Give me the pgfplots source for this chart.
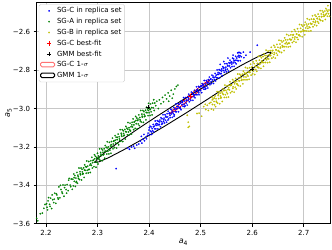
\documentclass[border=0pt]{standalone}
\usepackage{pgfplots}
\pgfplotsset{compat=1.18}
\usepackage{fontspec}
\setmainfont{DejaVu Sans}
\definecolor{mplgreen}{RGB}{0,128,0}
\definecolor{mplyellow}{RGB}{191,191,0}
\definecolor{mplblue}{RGB}{0,0,255}
\begin{document}
\begin{tikzpicture}
\begin{axis}[
 scale only axis, width=293.8pt, height=221.2pt,
 xmin=2.1816, xmax=2.7516, ymin=-3.6, ymax=-2.4475,
 xtick={2.2,2.3,2.4,2.5,2.6,2.7}, xticklabels={2.2,2.3,2.4,2.5,2.6,2.7},
 ytick={-3.6,-3.4,-3.2,-3.0,-2.8,-2.6}, yticklabels={−3.6,−3.4,−3.2,−3.0,−2.8,−2.6},
 grid=major, grid style={line width=0.8pt, black!22},
 tick align=outside, tick pos=left, major tick length=3pt,
 tick style={black, line width=0.6pt},
 ticklabel style={font=\fontsize{7}{8}\selectfont},
 axis line style={black, line width=0.7pt},
 xlabel={\textit{a}\textsubscript{4}}, ylabel={\textit{a}\textsubscript{5}},
 label style={font=\fontsize{8}{9}\selectfont},
 xlabel style={at={(axis description cs:0.5,-0.083)}, anchor=center},
 ylabel style={at={(axis description cs:-0.095,0.5)}, anchor=center},
 legend cell align=left,
 legend style={at={(0.008,0.992)}, anchor=north west, draw=black!20, rounded corners=1.5pt, font=\fontsize{7}{8}\selectfont, inner sep=1pt, row sep=0pt},
 scatterstyle/.style={only marks, mark=*, mark size=0.8pt, color=#1, mark options={fill=#1, draw=#1, line width=0.1pt}},
]
% SG-C in replica set
\addplot[scatterstyle=mplblue] coordinates {
(2.336,-3.313)(2.359,-3.205)(2.362,-3.212)(2.366,-3.200)(2.370,-3.196)(2.372,-3.207)(2.376,-3.190)(2.380,-3.185)(2.383,-3.170)(2.386,-3.180)(2.388,-3.160)(2.391,-3.168)(2.393,-3.150)(2.395,-3.158)(2.397,-3.140)(2.398,-3.128)(2.385,-3.145)(2.390,-3.135)
(2.400,-3.112)(2.401,-3.136)(2.402,-3.092)(2.403,-3.117)(2.404,-3.096)(2.405,-3.135)(2.406,-3.105)(2.407,-3.116)(2.408,-3.083)(2.409,-3.122)(2.410,-3.092)(2.411,-3.105)(2.412,-3.065)(2.413,-3.106)(2.414,-3.078)(2.415,-3.088)(2.416,-3.063)(2.417,-3.106)(2.418,-3.067)(2.419,-3.085)
(2.420,-3.083)(2.421,-3.060)(2.422,-3.095)(2.423,-3.048)(2.424,-3.068)(2.425,-3.053)(2.426,-3.077)(2.427,-3.032)(2.428,-3.067)(2.429,-3.050)(2.430,-3.075)(2.431,-3.032)(2.432,-3.061)(2.433,-3.045)(2.434,-3.071)(2.435,-3.027)(2.436,-3.044)(2.437,-3.014)(2.438,-3.054)(2.439,-3.025)
(2.440,-3.023)(2.441,-3.047)(2.442,-3.003)(2.443,-3.028)(2.444,-3.007)(2.445,-3.046)(2.446,-3.016)(2.447,-3.027)(2.448,-2.994)(2.449,-3.033)(2.450,-3.003)(2.451,-3.016)(2.452,-2.976)(2.453,-3.017)(2.454,-2.989)(2.455,-2.999)(2.456,-2.974)(2.457,-3.017)(2.458,-2.978)(2.459,-2.996)
(2.460,-2.994)(2.461,-2.971)(2.462,-3.006)(2.463,-2.959)(2.464,-2.979)(2.465,-2.964)(2.466,-2.988)(2.467,-2.943)(2.468,-2.978)(2.469,-2.961)(2.470,-2.986)(2.471,-2.943)(2.472,-2.972)(2.473,-2.956)(2.474,-2.982)(2.475,-2.938)(2.476,-2.955)(2.477,-2.925)(2.478,-2.965)(2.479,-2.936)
(2.480,-2.934)(2.481,-2.958)(2.482,-2.914)(2.483,-2.939)(2.484,-2.918)(2.485,-2.957)(2.486,-2.927)(2.487,-2.938)(2.488,-2.905)(2.489,-2.944)(2.490,-2.914)(2.491,-2.927)(2.492,-2.887)(2.493,-2.928)(2.494,-2.900)(2.495,-2.910)(2.496,-2.885)(2.497,-2.928)(2.498,-2.889)(2.499,-2.907)
(2.500,-2.905)(2.501,-2.882)(2.502,-2.917)(2.503,-2.870)(2.504,-2.890)(2.505,-2.875)(2.506,-2.899)(2.507,-2.854)(2.508,-2.889)(2.509,-2.872)(2.510,-2.897)(2.511,-2.854)(2.512,-2.883)(2.513,-2.867)(2.514,-2.893)(2.515,-2.849)(2.516,-2.866)(2.517,-2.836)(2.518,-2.876)(2.519,-2.847)
(2.520,-2.846)(2.521,-2.870)(2.522,-2.826)(2.523,-2.851)(2.524,-2.830)(2.525,-2.869)(2.526,-2.839)(2.527,-2.850)(2.528,-2.817)(2.529,-2.856)(2.530,-2.826)(2.531,-2.839)(2.532,-2.799)(2.533,-2.840)(2.534,-2.812)(2.535,-2.822)(2.536,-2.797)(2.537,-2.840)(2.538,-2.801)(2.539,-2.819)
(2.540,-2.817)(2.541,-2.794)(2.542,-2.829)(2.543,-2.782)(2.544,-2.802)(2.545,-2.787)(2.546,-2.811)(2.547,-2.766)(2.548,-2.801)(2.549,-2.784)(2.550,-2.809)(2.551,-2.766)(2.552,-2.795)(2.553,-2.779)(2.554,-2.805)(2.555,-2.761)(2.556,-2.778)(2.557,-2.748)(2.558,-2.788)(2.559,-2.759)
(2.560,-2.757)(2.561,-2.781)(2.562,-2.737)(2.563,-2.762)(2.564,-2.741)(2.565,-2.780)(2.566,-2.750)(2.567,-2.761)(2.568,-2.728)(2.569,-2.767)(2.570,-2.737)(2.571,-2.750)(2.572,-2.710)(2.573,-2.751)(2.574,-2.723)(2.575,-2.733)(2.576,-2.708)(2.577,-2.751)(2.578,-2.712)(2.579,-2.730)
(2.610,-2.670)(2.596,-2.706)(2.583,-2.706)(2.573,-2.708)(2.563,-2.722)(2.553,-2.737)(2.545,-2.755)(2.538,-2.770)(2.588,-2.722)(2.584,-2.735)
(2.4005,-3.100)(2.4045,-3.122)(2.4085,-3.095)(2.4125,-3.085)(2.4165,-3.080)(2.4205,-3.070)(2.4245,-3.082)(2.4285,-3.058)(2.4325,-3.040)(2.4365,-3.060)(2.4405,-3.035)(2.4445,-3.020)(2.4485,-3.040)(2.4525,-3.002)(2.4565,-2.990)(2.4605,-3.000)(2.4645,-2.968)(2.4685,-2.990)(2.4725,-2.958)(2.4765,-2.945)(2.4805,-2.950)(2.4845,-2.925)(2.4885,-2.930)(2.4925,-2.905)(2.4965,-2.918)(2.5005,-2.885)(2.5045,-2.880)(2.5085,-2.900)(2.5125,-2.862)(2.5165,-2.855)(2.5205,-2.860)(2.5245,-2.838)(2.5285,-2.835)(2.5325,-2.822)(2.5365,-2.815)(2.5405,-2.805)(2.5445,-2.790)(2.5485,-2.795)(2.5525,-2.775)(2.5565,-2.765)(2.5605,-2.768)(2.5645,-2.752)(2.5685,-2.748)(2.5725,-2.728)(2.5765,-2.725)
};
\addlegendentry{SG-C in replica set}
% SG-A in replica set
\addplot[scatterstyle=mplgreen] coordinates {
(2.182,-3.572)(2.184,-3.585)(2.189,-3.548)(2.193,-3.545)(2.196,-3.520)(2.198,-3.500)
(2.201,-3.496)(2.203,-3.528)(2.205,-3.464)(2.207,-3.499)(2.209,-3.467)(2.211,-3.521)(2.213,-3.475)(2.215,-3.490)(2.217,-3.441)(2.219,-3.494)(2.221,-3.450)(2.223,-3.465)(2.225,-3.408)(2.227,-3.465)(2.229,-3.422)(2.231,-3.435)(2.233,-3.398)(2.235,-3.457)(2.237,-3.399)(2.239,-3.422)(2.241,-3.396)(2.243,-3.428)(2.245,-3.364)(2.247,-3.399)(2.249,-3.367)(2.251,-3.421)
(2.202,-3.514)(2.204,-3.481)(2.208,-3.510)(2.212,-3.450)(2.216,-3.472)(2.220,-3.444)(2.224,-3.472)(2.228,-3.400)(2.232,-3.442)(2.236,-3.412)(2.240,-3.441)(2.244,-3.373)(2.248,-3.407)
(2.252,-3.368)(2.253,-3.403)(2.254,-3.341)(2.255,-3.379)(2.256,-3.349)(2.257,-3.406)(2.258,-3.362)(2.259,-3.380)(2.260,-3.333)(2.261,-3.389)(2.262,-3.347)(2.263,-3.365)(2.264,-3.310)(2.265,-3.370)(2.266,-3.329)(2.267,-3.345)(2.268,-3.310)(2.269,-3.372)(2.270,-3.316)(2.271,-3.342)
(2.272,-3.339)(2.273,-3.309)(2.274,-3.359)(2.275,-3.293)(2.276,-3.322)(2.277,-3.302)(2.278,-3.337)(2.279,-3.273)(2.280,-3.322)(2.281,-3.300)(2.282,-3.336)(2.283,-3.276)(2.284,-3.317)(2.285,-3.295)(2.286,-3.333)(2.287,-3.272)(2.288,-3.296)(2.289,-3.254)(2.290,-3.310)(2.291,-3.271)
(2.292,-3.268)(2.293,-3.303)(2.294,-3.241)(2.295,-3.279)(2.296,-3.249)(2.297,-3.306)(2.298,-3.262)(2.299,-3.280)(2.300,-3.233)(2.301,-3.289)(2.302,-3.247)(2.303,-3.265)(2.304,-3.210)(2.305,-3.270)(2.306,-3.229)(2.307,-3.245)(2.308,-3.210)(2.309,-3.272)(2.310,-3.216)(2.311,-3.242)
(2.312,-3.239)(2.313,-3.209)(2.314,-3.259)(2.315,-3.193)(2.316,-3.222)(2.317,-3.202)(2.318,-3.237)(2.319,-3.173)(2.320,-3.222)(2.321,-3.200)(2.322,-3.236)(2.323,-3.176)(2.324,-3.217)(2.325,-3.195)(2.326,-3.233)(2.327,-3.172)(2.328,-3.196)(2.329,-3.154)(2.330,-3.210)(2.331,-3.171)
(2.332,-3.168)(2.333,-3.203)(2.334,-3.141)(2.335,-3.179)(2.336,-3.149)(2.337,-3.206)(2.338,-3.162)(2.339,-3.180)(2.340,-3.133)(2.341,-3.189)(2.342,-3.147)(2.343,-3.165)(2.344,-3.110)(2.345,-3.170)(2.346,-3.129)(2.347,-3.145)(2.348,-3.110)(2.349,-3.172)(2.350,-3.116)(2.351,-3.142)
(2.352,-3.139)(2.353,-3.109)(2.354,-3.159)(2.355,-3.093)(2.356,-3.122)(2.357,-3.102)(2.358,-3.137)(2.359,-3.073)(2.360,-3.122)(2.361,-3.100)(2.362,-3.136)(2.363,-3.076)(2.364,-3.117)(2.365,-3.095)(2.366,-3.133)(2.367,-3.072)(2.368,-3.096)(2.369,-3.054)(2.370,-3.110)(2.371,-3.071)
(2.372,-3.068)(2.373,-3.103)(2.374,-3.041)(2.375,-3.079)(2.376,-3.049)(2.377,-3.106)(2.378,-3.062)(2.379,-3.080)(2.380,-3.033)(2.381,-3.089)(2.382,-3.047)(2.383,-3.065)(2.384,-3.010)(2.385,-3.070)(2.386,-3.029)(2.387,-3.045)(2.388,-3.010)(2.389,-3.072)(2.390,-3.016)(2.391,-3.042)
(2.392,-3.039)(2.393,-3.009)(2.394,-3.059)(2.395,-2.993)(2.396,-3.022)(2.397,-3.002)(2.398,-3.037)(2.399,-2.973)(2.400,-3.022)(2.401,-3.000)(2.402,-3.036)(2.403,-2.976)(2.404,-3.017)(2.405,-2.995)(2.406,-3.033)(2.407,-2.972)(2.408,-2.996)(2.409,-2.954)(2.410,-3.010)(2.411,-2.971)
(2.413,-2.985)(2.415,-2.962)(2.418,-3.000)(2.420,-2.955)(2.423,-2.975)(2.426,-2.942)(2.428,-2.965)(2.431,-2.930)(2.434,-2.950)(2.437,-2.918)(2.440,-2.935)(2.443,-2.905)(2.447,-2.925)(2.450,-2.898)(2.453,-2.885)(2.456,-2.878)(2.445,-2.946)(2.438,-2.962)
(2.2545,-3.360)(2.2585,-3.385)(2.2625,-3.355)(2.2665,-3.340)(2.2705,-3.330)(2.2745,-3.320)(2.2785,-3.305)(2.2825,-3.318)(2.2865,-3.288)(2.2905,-3.282)(2.2945,-3.262)(2.2985,-3.255)(2.3025,-3.258)(2.3065,-3.238)(2.3105,-3.228)(2.3145,-3.222)(2.3185,-3.205)(2.3225,-3.212)(2.3265,-3.188)(2.3305,-3.185)(2.3345,-3.165)(2.3385,-3.150)(2.3425,-3.158)(2.3465,-3.138)(2.3505,-3.130)(2.3545,-3.120)(2.3585,-3.108)(2.3625,-3.112)(2.3665,-3.085)(2.3705,-3.085)(2.3745,-3.062)(2.3785,-3.055)(2.3825,-3.058)(2.3865,-3.040)(2.3905,-3.030)(2.3945,-3.020)(2.3985,-3.010)(2.4025,-3.005)
};
\addlegendentry{SG-A in replica set}
% SG-B in replica set
\addplot[scatterstyle=mplyellow] coordinates {
(2.474,-3.035)(2.476,-3.071)(2.478,-3.093)(2.476,-3.098)(2.493,-3.026)(2.497,-3.024)(2.502,-3.040)(2.506,-2.990)(2.510,-3.005)(2.513,-2.983)(2.517,-2.973)(2.509,-2.978)(2.515,-3.010)
(2.520,-2.968)(2.521,-3.003)(2.522,-2.941)(2.523,-2.979)(2.524,-2.950)(2.525,-3.007)(2.526,-2.963)(2.527,-2.981)(2.528,-2.935)(2.529,-2.990)(2.530,-2.949)(2.531,-2.967)(2.532,-2.912)(2.533,-2.972)(2.534,-2.932)(2.535,-2.948)(2.536,-2.913)(2.537,-2.975)(2.538,-2.920)(2.539,-2.945)
(2.540,-2.943)(2.541,-2.913)(2.542,-2.963)(2.543,-2.897)(2.544,-2.927)(2.545,-2.907)(2.546,-2.942)(2.547,-2.878)(2.548,-2.928)(2.549,-2.905)(2.550,-2.942)(2.551,-2.882)(2.552,-2.923)(2.553,-2.901)(2.554,-2.940)(2.555,-2.879)(2.556,-2.903)(2.557,-2.861)(2.558,-2.918)(2.559,-2.878)
(2.560,-2.876)(2.561,-2.911)(2.562,-2.849)(2.563,-2.887)(2.564,-2.858)(2.565,-2.915)(2.566,-2.871)(2.567,-2.889)(2.568,-2.843)(2.569,-2.898)(2.570,-2.857)(2.571,-2.875)(2.572,-2.820)(2.573,-2.880)(2.574,-2.840)(2.575,-2.856)(2.576,-2.821)(2.577,-2.883)(2.578,-2.828)(2.579,-2.853)
(2.580,-2.851)(2.581,-2.821)(2.582,-2.871)(2.583,-2.805)(2.584,-2.835)(2.585,-2.815)(2.586,-2.850)(2.587,-2.786)(2.588,-2.836)(2.589,-2.813)(2.590,-2.850)(2.591,-2.790)(2.592,-2.831)(2.593,-2.809)(2.594,-2.848)(2.595,-2.787)(2.596,-2.811)(2.597,-2.769)(2.598,-2.826)(2.599,-2.786)
(2.600,-2.784)(2.601,-2.819)(2.602,-2.757)(2.603,-2.795)(2.604,-2.766)(2.605,-2.823)(2.606,-2.779)(2.607,-2.797)(2.608,-2.751)(2.609,-2.806)(2.610,-2.765)(2.611,-2.783)(2.612,-2.728)(2.613,-2.788)(2.614,-2.748)(2.615,-2.764)(2.616,-2.729)(2.617,-2.791)(2.618,-2.736)(2.619,-2.761)
(2.620,-2.759)(2.621,-2.729)(2.622,-2.780)(2.623,-2.714)(2.624,-2.744)(2.625,-2.724)(2.626,-2.760)(2.627,-2.696)(2.628,-2.746)(2.629,-2.724)(2.630,-2.761)(2.631,-2.701)(2.632,-2.742)(2.633,-2.720)(2.634,-2.759)(2.635,-2.698)(2.636,-2.723)(2.637,-2.681)(2.638,-2.738)(2.639,-2.699)
(2.640,-2.697)(2.641,-2.732)(2.642,-2.671)(2.643,-2.709)(2.644,-2.680)(2.645,-2.737)(2.646,-2.694)(2.647,-2.712)(2.648,-2.666)(2.649,-2.722)(2.650,-2.681)(2.651,-2.698)(2.652,-2.644)(2.653,-2.704)(2.654,-2.664)(2.655,-2.680)(2.656,-2.646)(2.657,-2.708)(2.658,-2.653)(2.659,-2.679)
(2.660,-2.677)(2.661,-2.647)(2.662,-2.698)(2.663,-2.632)(2.664,-2.662)(2.665,-2.642)(2.666,-2.678)(2.667,-2.614)(2.668,-2.664)(2.669,-2.642)(2.670,-2.679)(2.671,-2.619)(2.672,-2.660)(2.673,-2.638)(2.674,-2.677)(2.675,-2.616)(2.676,-2.641)(2.677,-2.599)(2.678,-2.656)(2.679,-2.617)
(2.680,-2.615)(2.681,-2.650)(2.682,-2.589)(2.683,-2.627)(2.684,-2.598)(2.685,-2.655)(2.686,-2.612)(2.687,-2.630)(2.688,-2.584)(2.689,-2.640)(2.690,-2.599)(2.691,-2.616)(2.692,-2.562)(2.693,-2.622)(2.694,-2.582)(2.695,-2.598)(2.696,-2.564)(2.697,-2.626)(2.698,-2.571)(2.699,-2.597)
(2.700,-2.595)(2.701,-2.565)(2.702,-2.616)(2.703,-2.550)(2.704,-2.580)(2.705,-2.560)(2.706,-2.596)(2.707,-2.532)(2.708,-2.582)(2.709,-2.560)(2.710,-2.597)(2.711,-2.537)(2.712,-2.578)(2.713,-2.556)(2.714,-2.595)(2.715,-2.534)(2.716,-2.559)(2.717,-2.517)(2.718,-2.574)(2.719,-2.535)
(2.720,-2.535)(2.721,-2.564)(2.722,-2.513)(2.723,-2.545)(2.724,-2.520)(2.725,-2.568)(2.726,-2.532)(2.727,-2.547)(2.728,-2.508)(2.729,-2.555)(2.730,-2.521)(2.731,-2.536)(2.732,-2.490)(2.733,-2.541)(2.734,-2.507)(2.735,-2.521)(2.736,-2.491)(2.737,-2.544)(2.738,-2.498)(2.739,-2.520)
(2.740,-2.518)(2.741,-2.492)(2.742,-2.536)(2.743,-2.479)(2.744,-2.505)(2.745,-2.487)(2.746,-2.519)(2.747,-2.464)(2.748,-2.506)(2.749,-2.487)(2.750,-2.519)
(2.5225,-2.955)(2.5265,-2.945)(2.5305,-2.962)(2.5345,-2.925)(2.5385,-2.935)(2.5425,-2.920)(2.5465,-2.905)(2.5505,-2.915)(2.5545,-2.892)(2.5585,-2.880)(2.5625,-2.895)(2.5665,-2.862)(2.5705,-2.870)(2.5745,-2.855)(2.5785,-2.840)(2.5825,-2.850)(2.5865,-2.820)(2.5905,-2.825)(2.5945,-2.812)(2.5985,-2.800)(2.6025,-2.805)(2.6065,-2.780)(2.6105,-2.785)(2.6145,-2.770)(2.6185,-2.752)(2.6225,-2.760)(2.6265,-2.735)(2.6305,-2.740)(2.6345,-2.725)(2.6385,-2.712)(2.6425,-2.718)(2.6465,-2.695)(2.6505,-2.700)(2.6545,-2.685)(2.6585,-2.672)(2.6625,-2.678)(2.6665,-2.655)(2.6705,-2.660)(2.6745,-2.642)(2.6785,-2.630)(2.6825,-2.638)(2.6865,-2.612)(2.6905,-2.618)(2.6945,-2.600)(2.6985,-2.590)(2.7025,-2.595)(2.7065,-2.570)(2.7105,-2.575)(2.7145,-2.560)(2.7185,-2.548)(2.7225,-2.552)(2.7265,-2.530)(2.7305,-2.535)(2.7345,-2.522)(2.7385,-2.510)(2.7425,-2.512)(2.7465,-2.495)
};
\addlegendentry{SG-B in replica set}
% SG-C best-fit
\addplot[only marks, mark=+, mark size=2.2pt, red, line width=0.9pt] coordinates {(2.480,-2.938)};
\addlegendentry{SG-C best-fit}
% GMM best-fit
\addplot[only marks, mark=+, mark size=2.2pt, black, line width=0.8pt] coordinates {(2.398,-2.993)(2.600,-2.795)};
\addlegendentry{GMM best-fit}
% SG-C 1-sigma
\addplot[red, line width=0.8pt, legend image code/.code={\draw[red!55, line width=0.9pt] (0pt,-2pt) rectangle (14pt,2.6pt);}] coordinates {
(2.5184,-2.8496)(2.5142,-2.8645)(2.5007,-2.8992)(2.4815,-2.9444)(2.4618,-2.9879)(2.4469,-3.0183)(2.4408,-3.0272)(2.4450,-3.0123)(2.4586,-2.9776)(2.4777,-2.9325)(2.4974,-2.8889)(2.5123,-2.8585)(2.5184,-2.8496)};
\addlegendentry{SG-C 1-$\sigma$}
% GMM 1-sigma
\addplot[black, line width=0.9pt, legend image code/.code={\draw[black, line width=1pt] (0pt,-2pt) rectangle (14pt,2.6pt);}] coordinates {
(2.6369,-2.7060)(2.6328,-2.7231)(2.6173,-2.7587)(2.5915,-2.8102)(2.5572,-2.8742)(2.5166,-2.9463)(2.4726,-3.0216)(2.4284,-3.0949)(2.3863,-3.1614)(2.3498,-3.2163)(2.3213,-3.2561)(2.3026,-3.2779)(2.2951,-3.2804)(2.2992,-3.2633)(2.3147,-3.2277)(2.3405,-3.1762)(2.3748,-3.1122)(2.4154,-3.0401)(2.4594,-2.9649)(2.5039,-2.8915)(2.5457,-2.8251)(2.5822,-2.7701)(2.6107,-2.7303)(2.6294,-2.7085)(2.6369,-2.7060)};
\addlegendentry{GMM 1-$\sigma$}
\end{axis}
\path ([shift={(-36.5pt,-25.3pt)}]current axis.south west) rectangle ([shift={(1.7pt,2.5pt)}]current axis.north east);
\end{tikzpicture}
\end{document}
